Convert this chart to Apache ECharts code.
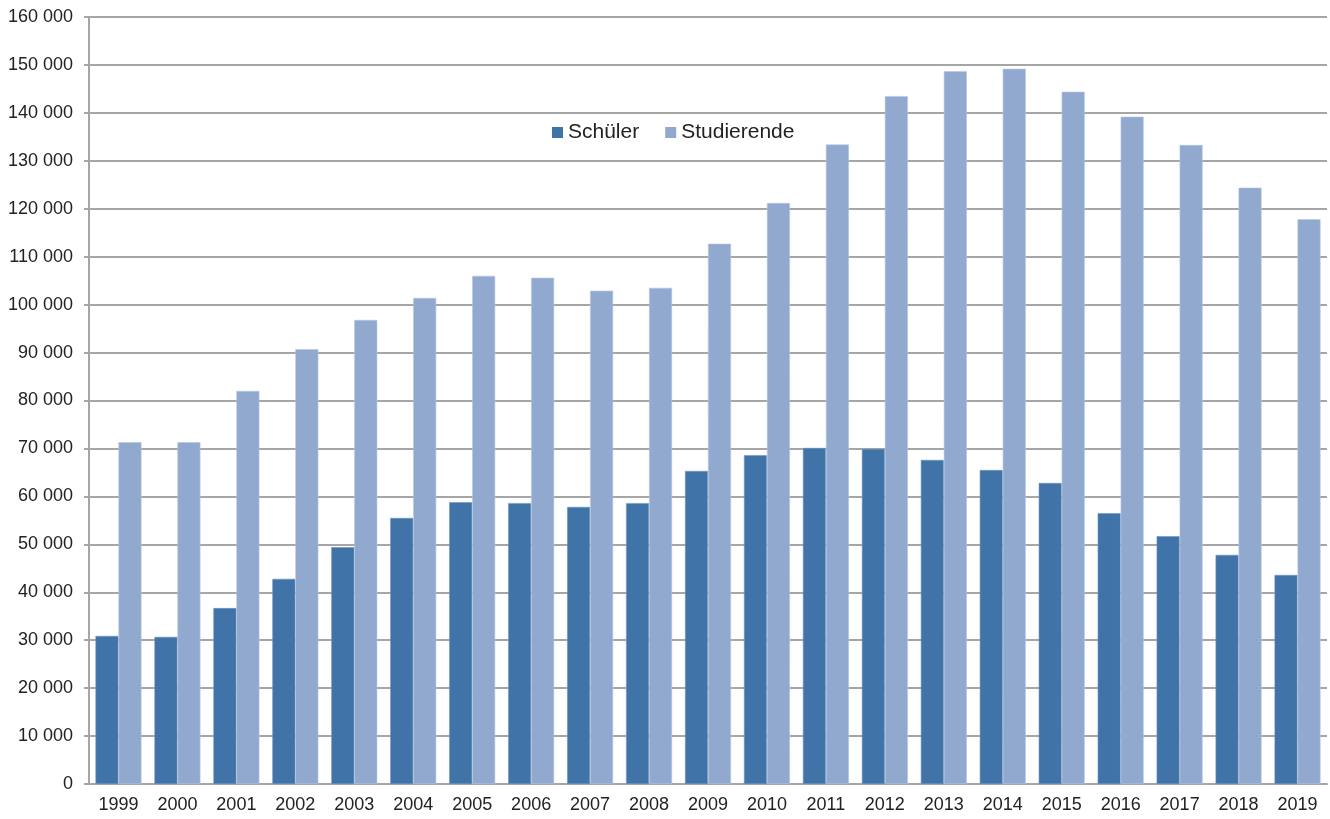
<!DOCTYPE html>
<html>
<head>
<meta charset="utf-8">
<script src="https://cdn.jsdelivr.net/npm/echarts@6/dist/echarts.min.js"></script>
<style>
  html, body { margin: 0; padding: 0; background: #fff; }
  #chart { width: 1330px; height: 819px; }
</style>
</head>
<body>
<div id="chart"></div>
<script>
// Jahre
const years = ['1999','2000','2001','2002','2003','2004','2005','2006','2007','2008','2009',
               '2010','2011','2012','2013','2014','2015','2016','2017','2018','2019'];

// Anzahl Schüler je Jahr
const schueler = [30900, 30700, 36700, 42800, 49400, 55500, 58800, 58600, 57800, 58600, 65300,
                  68600, 70100, 69900, 67600, 65500, 62800, 56500, 51700, 47800, 43600];

// Anzahl Studierende je Jahr
const studierende = [71300, 71300, 82000, 90700, 96800, 101400, 106000, 105600, 102900, 103500, 112700,
                     121200, 133400, 143500, 148700, 149200, 144400, 139200, 133300, 124400, 117800];

const seriesNames = ['Schüler', 'Studierende'];

const fmt = v => String(v).replace(/\B(?=(\d{3})+(?!\d))/g, ' ');

const chart = echarts.init(document.getElementById('chart'));
chart.setOption({
  animation: false,
  textStyle: { fontFamily: 'Liberation Sans, Arial, sans-serif' },
  legend: {
    left: 547, top: 117,
    itemWidth: 11, itemHeight: 11, itemGap: 26,
    icon: 'rect',
    itemStyle: { borderWidth: 0 },
    textStyle: { fontSize: 21, color: '#222' },
    data: seriesNames
  },
  grid: { left: 89, right: 3, top: 17, bottom: 35, containLabel: false },
  xAxis: {
    type: 'category',
    data: years,
    axisLine: { lineStyle: { color: '#a6a6a6', width: 2 } },
    axisTick: { show: false },
    axisLabel: { fontSize: 18, color: '#222', margin: 12 }
  },
  yAxis: {
    type: 'value',
    min: 0, max: 160000, interval: 10000,
    axisLine: { show: true, lineStyle: { color: '#a6a6a6', width: 2 } },
    axisTick: { show: true, length: 5, lineStyle: { color: '#a6a6a6', width: 2 } },
    splitLine: { lineStyle: { color: '#a6a6a6', width: 2 } },
    axisLabel: { fontSize: 18, color: '#222', margin: 16, formatter: fmt }
  },
  series: [
    {
      name: seriesNames[0], type: 'bar', data: schueler,
      barGap: '0%', barCategoryGap: '22%',
      itemStyle: { color: '#4073a8', borderColor: '#6f95c2', borderWidth: 0.6 }
    },
    {
      name: seriesNames[1], type: 'bar', data: studierende,
      itemStyle: { color: '#91a9cf', borderColor: '#b5c6e0', borderWidth: 0.6 }
    }
  ]
});
</script>
</body>
</html>
